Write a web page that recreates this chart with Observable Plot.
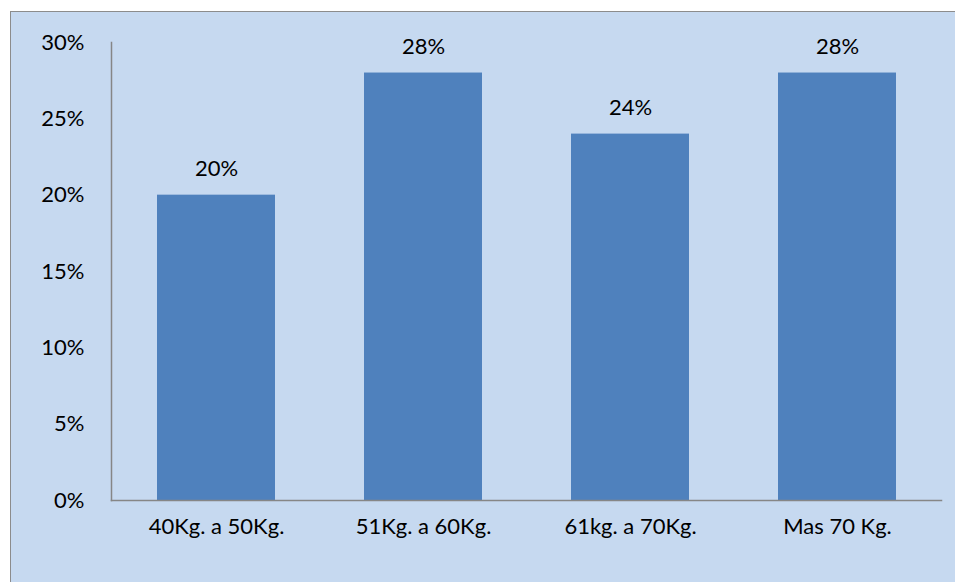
<!DOCTYPE html>
<html>
<head>
<meta charset="utf-8">
<script src="https://cdn.jsdelivr.net/npm/d3@7"></script>
<script src="https://cdn.jsdelivr.net/npm/@observablehq/plot@0.6"></script>
<style>
  html, body { margin: 0; padding: 0; background: #ffffff; overflow: hidden; }
  #bg { position: absolute; left: 10px; top: 11px; width: 960px; height: 590px;
        background: #c6d9f0; border: 1.5px solid #8c8c8c; }
  #chart { position: absolute; left: 0; top: 0; }
</style>
</head>
<body>
<div id="bg"></div>
<div id="chart"></div>
<script>
const categories = ["40Kg. a 50Kg.", "51Kg. a 60Kg.", "61kg. a 70Kg.", "Mas 70 Kg."];
const values = [0.20, 0.28, 0.24, 0.28];
const yTicks = [0, 0.05, 0.10, 0.15, 0.20, 0.25, 0.30];

const data = categories.map((c, i) => ({category: c, value: values[i]}));
const pct = d3.format(".0%");

const chart = Plot.plot({
  width: 955,
  height: 582,
  marginLeft: 111,
  marginRight: 14,
  marginTop: 42,
  marginBottom: 82,
  style: {background: "transparent", fontFamily: "Lato, sans-serif", fontSize: "22px", color: "#000"},
  x: {domain: categories, paddingInner: 0.43, paddingOuter: 0.215, label: null},
  y: {domain: [0, 0.3], label: null},
  marks: [
    Plot.barY(data, {x: "category", y: "value", fill: "#4f81bd"}),
    Plot.text(data, {x: "category", y: "value", text: d => pct(d.value), dy: -26, fontSize: 22, fill: "#000"}),
    Plot.axisY(yTicks, {tickSize: 0, tickPadding: 27, tickFormat: pct, fontSize: 22, label: null}),
    Plot.axisX({tickSize: 0, tickPadding: 18, fontSize: 22, label: null}),
    Plot.frame({anchor: "left", stroke: "#868686", strokeWidth: 1.5}),
    Plot.frame({anchor: "bottom", stroke: "#868686", strokeWidth: 1.5})
  ]
});
document.getElementById("chart").appendChild(chart);
</script>
</body>
</html>
